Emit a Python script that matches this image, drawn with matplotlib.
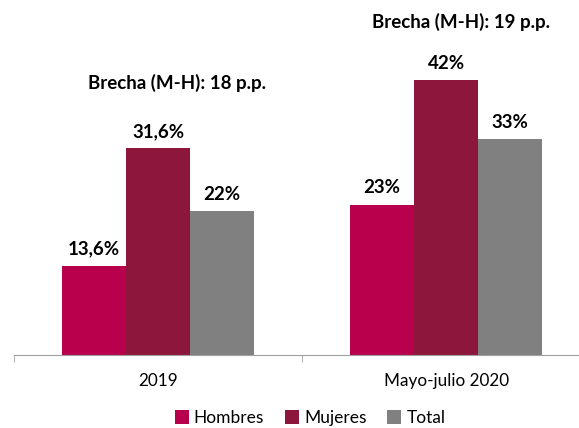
import matplotlib
matplotlib.use("Agg")
import matplotlib.pyplot as plt
import numpy as np

plt.rcParams['font.family'] = ['Lato', 'DejaVu Sans']

# Datos
periodos = ['2019', 'Mayo-julio 2020']
series = ['Hombres', 'Mujeres', 'Total']
hombres = [13.6, 23]
mujeres = [31.6, 42]
total = [22, 33]
etiquetas = [['13,6%', '23%'], ['31,6%', '42%'], ['22%', '33%']]
brechas = ['Brecha (M-H): 18 p.p.', 'Brecha (M-H): 19 p.p.']

colores = ['#B8004C', '#8C163C', '#808080']

fig = plt.figure(figsize=(5.79, 4.28), dpi=100)
ax = fig.add_axes([14/579, (428-355)/428, (578-14)/579, (355-5)/428])

x = np.arange(len(periodos))
ancho = 0.222
valores = [hombres, mujeres, total]
for i, (nombre, vals) in enumerate(zip(series, valores)):
    barras = ax.bar(x + (i-1)*ancho, vals, ancho, color=colores[i], label=nombre)
    for b, txt in zip(barras, etiquetas[i]):
        ax.annotate(txt, (b.get_x() + b.get_width()/2, b.get_height()),
                    xytext=(0, 6), textcoords='offset points',
                    ha='center', va='bottom', fontsize=13.5, fontweight='bold')

# Brechas
ax.text(0.065, 41.6, brechas[0], ha='center', va='center', fontsize=13.5, fontweight='bold')
ax.text(1.052, 50.9, brechas[1], ha='center', va='center', fontsize=13.5, fontweight='bold')

ax.set_xlim(-0.5, 1.458)
ax.set_ylim(0, 53.5)
ax.set_yticks([])
ax.set_xticks(x)
ax.set_xticklabels(periodos, fontsize=12.3)
ax.tick_params(axis='x', which='major', length=0, pad=13)
ax.set_xticks([-0.5, 0.5], minor=True)
ax.tick_params(axis='x', which='minor', length=5, color='#A0A0A0')
for s in ['top', 'right', 'left']:
    ax.spines[s].set_visible(False)
ax.spines['bottom'].set_color('#A0A0A0')

ax.legend(loc='center', bbox_to_anchor=(0.525, -0.18), ncol=3, frameon=False,
          fontsize=12.5, handlelength=0.8, handleheight=0.8, handletextpad=0.3,
          columnspacing=1.2)

fig.savefig('out.png', dpi=100)
